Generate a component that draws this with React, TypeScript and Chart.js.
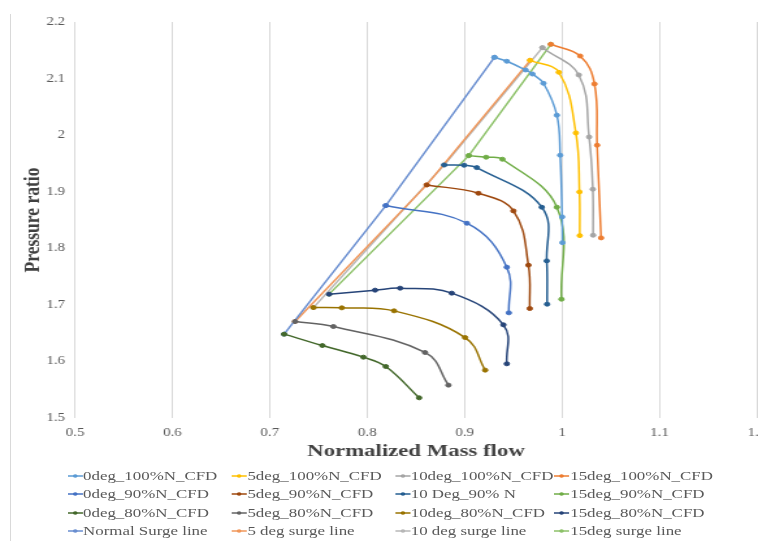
import React, { useEffect, useRef } from 'react';
import { Chart, registerables } from 'chart.js';

Chart.register(...registerables);

// ---------- data ----------
const xTickLabels = ['0.5', '0.6', '0.7', '0.8', '0.9', '1', '1.1', '1.2'];
const yTickLabels = ['1.5', '1.6', '1.7', '1.8', '1.9', '2', '2.1', '2.2'];

const seriesNames = [
  '0deg_100%N_CFD', '5deg_100%N_CFD', '10deg_100%N_CFD', '15deg_100%N_CFD',
  '0deg_90%N_CFD', '5deg_90%N_CFD', '10 Deg_90% N', '15deg_90%N_CFD',
  '0deg_80%N_CFD', '5deg_80%N_CFD', '10deg_80%N_CFD', '15deg_80%N_CFD',
  'Normal Surge line', '5 deg surge line', '10 deg surge line', '15deg surge line',
];

const seriesColors = [
  '#5B9BD5', '#FFC000', '#A5A5A5', '#ED7D31',
  '#4472C4', '#9E480E', '#255E91', '#70AD47',
  '#43682B', '#636363', '#997300', '#264478',
  '#698ED0', '#F1975A', '#B7B7B7', '#8CC168',
];

// 100% speed
const x0_100 = [0.9305, 0.9432, 0.9625, 0.9695, 0.9808, 0.9946, 0.998, 1.0, 1.0003];
const y0_100 = [2.1376, 2.1306, 2.1152, 2.1081, 2.0917, 2.0352, 1.9645, 1.8555, 1.81];
const x5_100 = [0.9672, 0.9966, 1.0141, 1.0178, 1.0181];
const y5_100 = [2.1323, 2.1111, 2.0039, 1.8996, 1.8224];
const x10_100 = [0.9798, 1.0171, 1.0277, 1.0315, 1.0318];
const y10_100 = [2.1546, 2.1064, 1.9968, 1.9044, 1.8231];
const x15_100 = [0.9884, 1.0185, 1.0332, 1.0359, 1.04];
const y15_100 = [2.1606, 2.1399, 2.0905, 1.9822, 1.8184];

// 90% speed
const x0_90 = [0.819, 0.9022, 0.9432, 0.9453];
const y0_90 = [1.8755, 1.8443, 1.7666, 1.6859];
const x5_90 = [0.861, 0.9141, 0.95, 0.9654, 0.9668];
const y5_90 = [1.912, 1.8973, 1.8661, 1.7702, 1.6935];
const x10_90 = [0.8789, 0.8994, 0.9124, 0.9791, 0.9842, 0.9846];
const y10_90 = [1.9473, 1.9468, 1.9426, 1.8726, 1.7777, 1.7012];
const x15_90 = [0.9042, 0.922, 0.9387, 0.9946, 0.9993];
const y15_90 = [1.9638, 1.961, 1.9574, 1.8726, 1.71];

// 80% speed
const x0_80 = [0.7146, 0.7539, 0.796, 0.819, 0.8532];
const y0_80 = [1.6482, 1.6281, 1.6075, 1.591, 1.5357];
const x5_80 = [0.7259, 0.7652, 0.8593, 0.8833];
const y5_80 = [1.6705, 1.6617, 1.6158, 1.5581];
const x10_80 = [0.7447, 0.7738, 0.8275, 0.9004, 0.921];
const y10_80 = [1.6952, 1.6947, 1.6894, 1.6422, 1.5846];
const x15_80 = [0.7608, 0.808, 0.8337, 0.8867, 0.9397, 0.9432];
const y15_80 = [1.7189, 1.726, 1.7295, 1.7207, 1.6647, 1.5958];

// surge lines
const xSurge0 = [0.7146, 0.819, 0.9305];
const ySurge0 = [1.6482, 1.8755, 2.1376];
const xSurge5 = [0.7259, 0.861, 0.9672];
const ySurge5 = [1.6705, 1.912, 2.1323];
const xSurge10 = [0.7447, 0.8789, 0.9798];
const ySurge10 = [1.6952, 1.9473, 2.1546];
const xSurge15 = [0.7608, 0.9042, 0.9884];
const ySurge15 = [1.7189, 1.9638, 2.1606];

const seriesX = [x0_100, x5_100, x10_100, x15_100, x0_90, x5_90, x10_90, x15_90, x0_80, x5_80, x10_80, x15_80, xSurge0, xSurge5, xSurge10, xSurge15];
const seriesY = [y0_100, y5_100, y10_100, y15_100, y0_90, y5_90, y10_90, y15_90, y0_80, y5_80, y10_80, y15_80, ySurge0, ySurge5, ySurge10, ySurge15];

// ---------- layout ----------
const PAGE_W = 758;
const PAGE_H = 541;
const LOGICAL_W = 583;
const SX = PAGE_W / LOGICAL_W; // horizontal stretch of the original picture
const SERIF = "'Liberation Serif', 'Times New Roman', serif";

const legendColsX = [67.3, 231.7, 395, 554.5];
const legendRowsY = [476, 494.3, 512.7, 531];

export default function App() {
  const canvasRef = useRef<HTMLCanvasElement | null>(null);

  useEffect(() => {
    const canvas = canvasRef.current;
    if (!canvas) return;
    const datasets = seriesNames.map((name, i) => {
      const isSurge = i >= 12;
      return {
        label: name,
        data: seriesX[i].map((x, k) => ({ x, y: seriesY[i][k] })),
        showLine: true,
        borderColor: seriesColors[i],
        backgroundColor: seriesColors[i],
        pointBackgroundColor: seriesColors[i],
        pointBorderColor: seriesColors[i],
        pointRadius: 2,
        pointBorderWidth: 1,
        borderWidth: 1.5,
        tension: isSurge ? 0 : 0.4,
      };
    });

    const chart = new Chart(canvas, {
      type: 'scatter',
      data: { datasets },
      options: {
        animation: false,
        responsive: false,
        devicePixelRatio: 1,
        layout: {
          autoPadding: false,
          padding: { left: 0, right: 0.8, top: 22, bottom: 79 },
        },
        plugins: {
          legend: { display: false },
          tooltip: { enabled: false },
        },
        scales: {
          x: {
            type: 'linear',
            min: 0.5,
            max: 1.2,
            ticks: {
              stepSize: 0.1,
              autoSkip: false,
              maxRotation: 0,
              padding: 8,
              color: '#595959',
              font: { family: SERIF, size: 11.5 },
              callback: (_v: any, i: number) => xTickLabels[i],
            },
            grid: { color: '#D9D9D9', lineWidth: 1, drawTicks: false },
            border: { display: false },
            title: {
              display: true,
              text: 'Normalized Mass flow',
              color: '#404040',
              font: { family: SERIF, size: 17.5, weight: 'bold' },
              padding: { top: 0, bottom: 0 },
            },
            afterFit: (s: any) => {
              s.height = 44;
              s.paddingLeft = 0;
              s.paddingRight = 0;
            },
          },
          y: {
            type: 'linear',
            min: 1.5,
            max: 2.2,
            ticks: {
              stepSize: 0.1,
              autoSkip: false,
              padding: 7.7,
              color: '#595959',
              font: { family: SERIF, size: 11.5 },
              callback: (_v: any, i: number) => yTickLabels[i],
            },
            grid: { display: false, drawTicks: false },
            border: { display: false },
            title: {
              display: true,
              text: 'Pressure ratio',
              color: '#404040',
              font: { family: SERIF, size: 17.5, weight: 'bold' },
              padding: { top: 15, bottom: 0 },
            },
            afterFit: (s: any) => {
              s.width = 57.7;
              s.paddingTop = 0;
              s.paddingBottom = 0;
            },
          },
        },
      } as any,
    });
    return () => chart.destroy();
  }, []);

  return (
    <div style={{ position: 'absolute', left: 0, top: 0, width: PAGE_W, height: PAGE_H, overflow: 'hidden', background: '#fff' }}>
      <div style={{ position: 'absolute', left: 10, top: 14, width: 0, height: PAGE_H - 14, borderLeft: '1px solid #D9D9D9' }} />
      <div
        style={{
          position: 'absolute', left: 0, top: 0, width: LOGICAL_W, height: PAGE_H,
          transform: `scaleX(${SX})`, transformOrigin: '0 0',
        }}
      >
        <canvas ref={canvasRef} width={LOGICAL_W} height={PAGE_H} style={{ display: 'block', width: LOGICAL_W, height: PAGE_H }} />
        {seriesNames.map((name, i) => {
          const col = i % 4;
          const row = Math.floor(i / 4);
          return (
            <div
              key={name}
              style={{
                position: 'absolute',
                left: legendColsX[col] / SX,
                top: legendRowsY[row] - 9,
                height: 18,
                display: 'flex',
                alignItems: 'center',
                whiteSpace: 'nowrap',
                fontFamily: SERIF,
                fontSize: 13,
                color: '#595959',
              }}
            >
              <svg width={11.8} height={8} style={{ display: 'block', marginRight: 0.3 }}>
                <line x1={0} y1={4} x2={11.8} y2={4} stroke={seriesColors[i]} strokeWidth={1.5} />
                <circle cx={5.9} cy={4} r={1.8} fill={seriesColors[i]} />
              </svg>
              <span>{name}</span>
            </div>
          );
        })}
      </div>
    </div>
  );
}
